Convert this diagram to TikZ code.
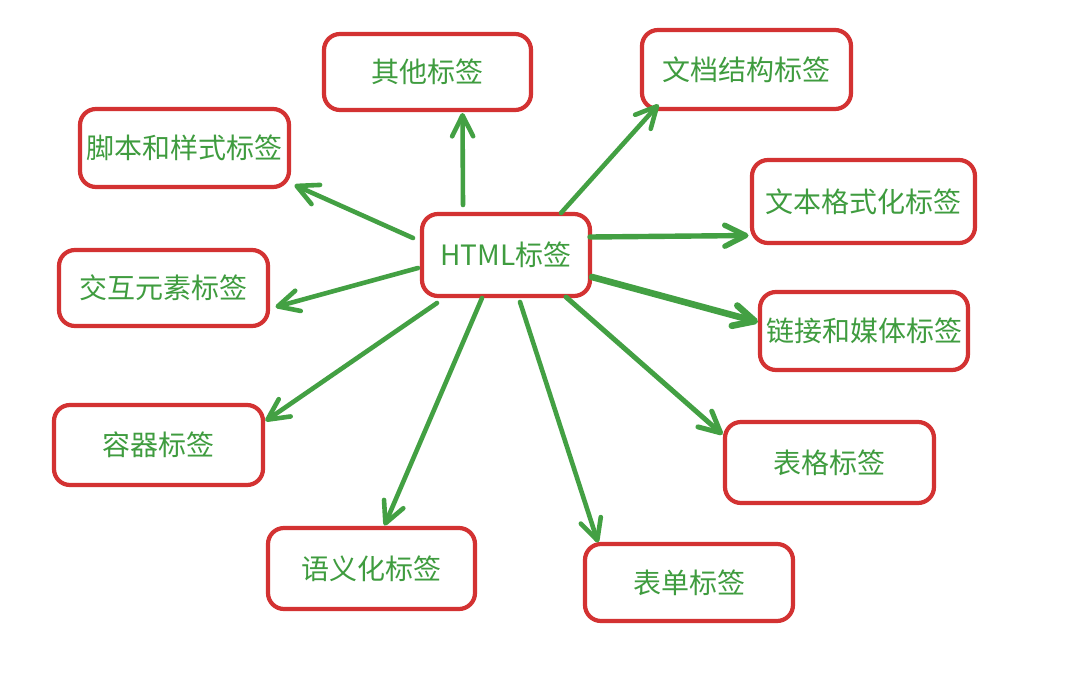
\documentclass[tikz,border=0pt]{standalone}
\usepackage{fontspec}
\newfontfamily\cjk{Noto Sans CJK SC}
\usetikzlibrary{arrows.meta,calc}
\definecolor{boxred}{HTML}{D33232}
\definecolor{arrgreen}{HTML}{43A043}
\definecolor{txtgreen}{HTML}{3F9C3F}
\tikzset{
  tagbox/.style={draw=boxred, line width=4.2pt, rounded corners=16pt,
    text=txtgreen, font=\cjk\fontsize{28}{32}\selectfont, inner sep=0pt,
    fill=white},
  conn/.style={draw=arrgreen, line width=4.6pt, line cap=round,
    -{Straight Barb[length=21pt,width=21pt,round]}},
}
\begin{document}
\begin{tikzpicture}[x=1pt,y=-1pt]
\fill[white] (0,0) rectangle (1072,681);
\useasboundingbox (0,0) rectangle (1072,681);

\node[tagbox, minimum width=168pt, minimum height=82pt] (html) at (506,255) {HTML标签};
\node[tagbox, minimum width=207pt, minimum height=76pt] (other) at (427.5,72) {其他标签};
\node[tagbox, minimum width=209pt, minimum height=78pt] (script) at (184.5,148) {脚本和样式标签};
\node[tagbox, minimum width=209pt, minimum height=76pt] (inter) at (163.5,288) {交互元素标签};
\node[tagbox, minimum width=209pt, minimum height=80pt] (cont) at (158.5,445) {容器标签};
\node[tagbox, minimum width=207pt, minimum height=81pt] (sem) at (371.5,568.5) {语义化标签};
\node[tagbox, minimum width=209pt, minimum height=79pt] (doc) at (746.5,69.5) {文档结构标签};
\node[tagbox, minimum width=223pt, minimum height=83pt] (fmt) at (863.5,201.5) {文本格式化标签};
\node[tagbox, minimum width=208pt, minimum height=78pt] (link) at (864,331) {链接和媒体标签};
\node[tagbox, minimum width=209pt, minimum height=81pt] (table) at (829.5,462.5) {表格标签};
\node[tagbox, minimum width=208pt, minimum height=77pt] (form) at (689,582.5) {表单标签};

\draw[conn] ($(html)+(-43,-50)$) -- ($(other)+(35,41)$);
\draw[conn] ($(html)+(55,-42)$) -- ($(doc)+(-88,35)$);
\draw[conn, line width=5.4pt] ($(html)+(84,-18)$) -- ($(fmt)+(-115,34)$);
\draw[conn, line width=6.6pt] ($(html)+(86,22)$) -- ($(link)+(-106,-9)$);
\draw[conn, line width=5pt] ($(html)+(60,42)$) -- ($(table)+(-107,-28)$);
\draw[conn] ($(html)+(14,47)$) -- ($(form)+(-91,-40)$);
\draw[conn] ($(html)+(-24,43)$) -- ($(sem)+(13,-43)$);
\draw[conn] ($(html)+(-69,48)$) -- ($(cont)+(107,-24)$);
\draw[conn] ($(html)+(-88,13)$) -- ($(inter)+(112,19)$);
\draw[conn] ($(html)+(-93,-17)$) -- ($(script)+(110,37)$);
\end{tikzpicture}
\end{document}
